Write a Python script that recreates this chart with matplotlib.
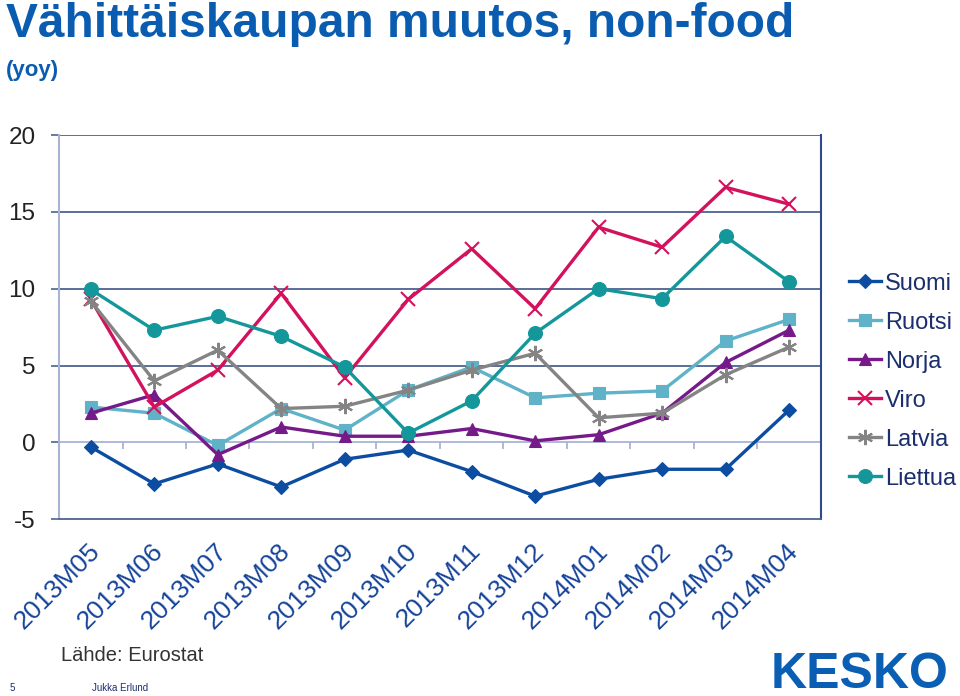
import matplotlib.pyplot as plt
import matplotlib.transforms as mtransforms

plt.rcParams["font.family"] = ["Liberation Sans", "DejaVu Sans"]

months = ["2013M05", "2013M06", "2013M07", "2013M08", "2013M09", "2013M10",
          "2013M11", "2013M12", "2014M01", "2014M02", "2014M03", "2014M04"]

suomi = [-0.3, -2.7, -1.4, -2.9, -1.1, -0.5, -1.9, -3.5, -2.4, -1.75, -1.75, 2.1]
ruotsi = [2.3, 1.9, -0.2, 2.2, 0.8, 3.4, 4.9, 2.9, 3.2, 3.35, 6.6, 8.0]
norja = [1.9, 3.1, -0.8, 1.0, 0.4, 0.4, 0.9, 0.1, 0.5, 1.9, 5.2, 7.3]
viro = [9.3, 2.3, 4.7, 9.7, 4.2, 9.3, 12.6, 8.7, 14.0, 12.7, 16.6, 15.5]
latvia = [9.2, 4.0, 6.0, 2.2, 2.35, 3.4, 4.7, 5.8, 1.6, 1.9, 4.4, 6.2]
liettua = [9.95, 7.3, 8.2, 6.9, 4.9, 0.6, 2.7, 7.1, 10.0, 9.35, 13.4, 10.45]

series = [
    ("Suomi", suomi, "#0c4da2", "D", 7),
    ("Ruotsi", ruotsi, "#5fb2c8", "s", 9),
    ("Norja", norja, "#761a8a", "^", 9),
    ("Viro", viro, "#d4115c", "x", 10),
    ("Latvia", latvia, "#848484", (6, 2, 0), 11),
    ("Liettua", liettua, "#14979a", "o", 10),
]

blue = "#0a5cb0"
navy = "#1b2f6e"
grid_col = "#4c6290"

fig = plt.figure(figsize=(9.6, 6.96), dpi=100)
ax = fig.add_axes([0.0615, 0.254, 0.7935, 0.552])

x = list(range(len(months)))
for name, vals, col, mk, ms in series:
    ax.plot(x, vals, color=col, lw=2.4, marker=mk, markersize=ms,
            markeredgewidth=1.5 if mk in ("x", (6, 2, 0)) else 0.8,
            markeredgecolor=col, label=name, zorder=3)

ax.set_xlim(-0.5, len(months) - 0.5)
ax.set_ylim(-5, 20)
ax.set_yticks([-5, 0, 5, 10, 15, 20])
ax.set_yticklabels(["-5", "0", "5", "10", "15", "20"])

for yv in [5, 10, 15, 20]:
    ax.axhline(yv, color=grid_col, lw=1.3, zorder=1)
ax.axhline(0, color="#a9b3d6", lw=1.3, zorder=1)
ax.vlines([i + 0.5 for i in range(len(months) - 1)], -0.45, 0,
          color="#a9b3d6", lw=1.3, zorder=1)

ax.spines["top"].set_visible(False)
ax.spines["left"].set_color("#a9b3d6")
ax.spines["left"].set_linewidth(1.5)
ax.spines["right"].set_color("#2f4a8c")
ax.spines["right"].set_linewidth(1.5)
ax.spines["bottom"].set_color(grid_col)
ax.spines["bottom"].set_linewidth(1.3)

ax.tick_params(axis="y", length=6, width=1.2, color=grid_col, labelsize=17.5,
               labelcolor="#222222", pad=11)
ax.set_xticks(x)
ax.set_xticklabels(months, rotation=45, ha="right", va="top",
                   rotation_mode="anchor", fontsize=19, color="#16449a")
ax.tick_params(axis="x", length=0, pad=14)
offset = mtransforms.ScaledTranslation(-3 / 100, 0, fig.dpi_scale_trans)
for lab in ax.get_xticklabels():
    lab.set_transform(lab.get_transform() + offset)

fig.legend(loc="upper left", bbox_to_anchor=(0.875, 0.622), frameon=False,
           fontsize=17, handlelength=1.35, handletextpad=0.15,
           labelspacing=0.72, labelcolor=navy, borderaxespad=0)

fig.text(0.006, 0.997, "Vähittäiskaupan muutos, non-food", fontsize=34.5,
         fontweight="bold", color=blue, va="top", ha="left")
fig.text(0.006, 0.914, "(yoy)", fontsize=16, fontweight="bold", color=blue,
         va="top", ha="left")
fig.text(0.064, 0.058, "Lähde: Eurostat", fontsize=14.5, color="#333333",
         va="center", ha="left")
fig.text(0.010, 0.012, "5", fontsize=7, color=navy, va="center")
fig.text(0.096, 0.012, "Jukka Erlund", fontsize=7, color=navy, va="center")
fig.text(0.988, 0.012, "KESKO", fontsize=36, fontweight="bold", color="#0a5fb4",
         ha="right", va="baseline")

fig.savefig("out.png", dpi=100)
